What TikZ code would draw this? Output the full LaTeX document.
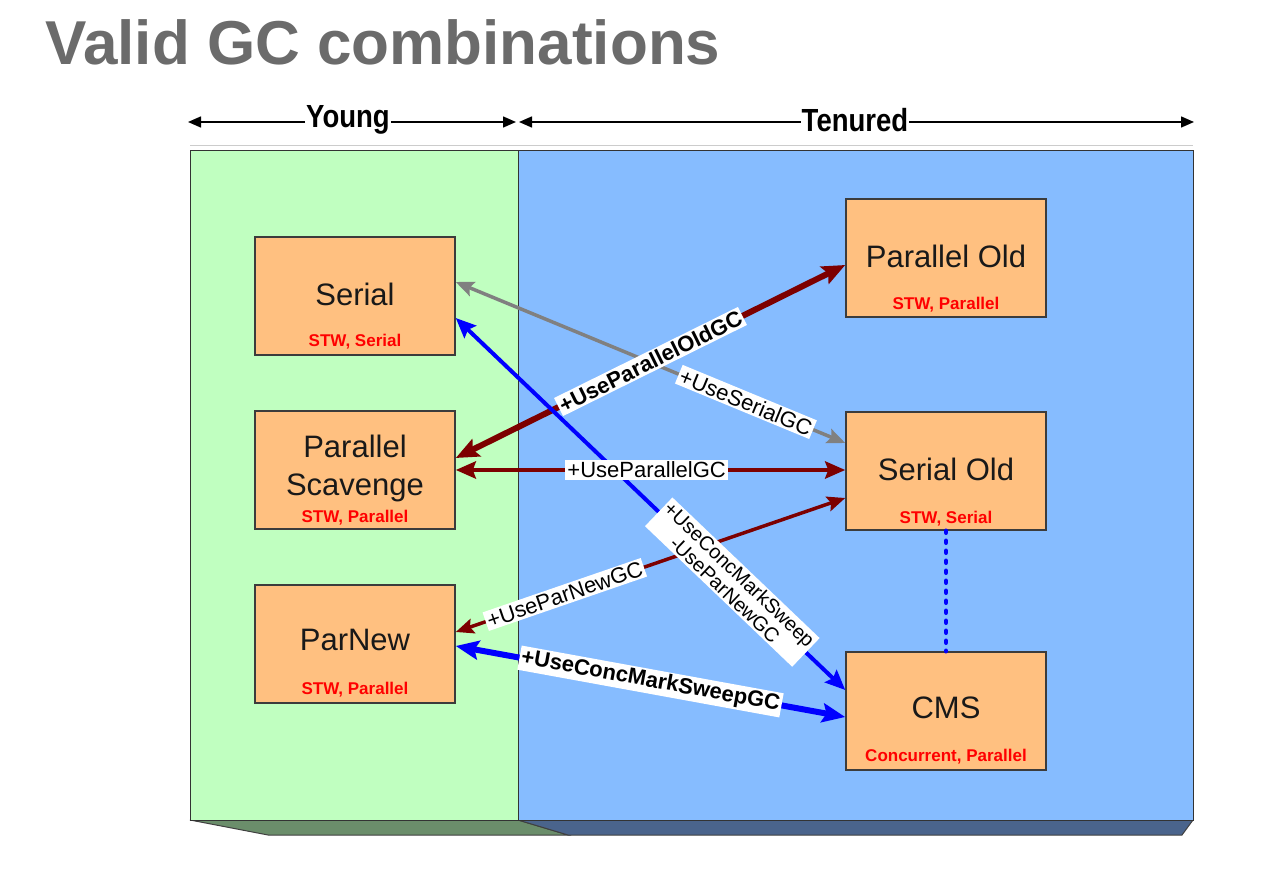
\documentclass[tikz,border=0pt]{standalone}
\usepackage{fontspec}
\setmainfont{Liberation Sans}
\usetikzlibrary{arrows.meta,calc}
\definecolor{youngbg}{RGB}{192,255,192}
\definecolor{tenbg}{RGB}{134,188,255}
\definecolor{boxfill}{RGB}{255,192,128}
\definecolor{boxline}{RGB}{60,60,60}
\definecolor{darkred}{RGB}{125,0,0}
\definecolor{titlegray}{RGB}{107,107,107}
\definecolor{youngdark}{RGB}{107,142,107}
\definecolor{tendark}{RGB}{74,100,140}
\definecolor{gcblue}{RGB}{0,0,255}
\definecolor{gcgray}{RGB}{128,128,128}
\begin{document}
\begin{tikzpicture}[x=1pt,y=-1pt,
  panel/.style={draw=black!80,line width=1.2pt},
  gcbox/.style={draw=boxline,line width=1.5pt,fill=boxfill,minimum width=200pt,minimum height=118pt,inner sep=0pt},
  gcname/.style={font=\fontsize{31}{38}\selectfont,text=black!90,align=center},
  gcprop/.style={font=\bfseries\fontsize{17}{20}\selectfont,text=red},
  hdr/.style={font=\bfseries\fontsize{32}{36}\selectfont,inner sep=1pt},
  hdrline/.style={line width=1.5pt,-{Triangle[length=13pt,width=11pt]}},
  lbl/.style={fill=white,inner sep=2pt,font=\fontsize{22}{24}\selectfont,sloped},
  blbl/.style={lbl,font=\bfseries\fontsize{22}{24}\selectfont},
]
\useasboundingbox (0,0) rectangle (1286,882);

% title
\node[anchor=base west,inner sep=0pt,text=titlegray,font=\bfseries\fontsize{62}{70}\selectfont] (title) at (45,65) {Valid GC combinations};

% header arrows
\node[hdr] (young) at (348,120) {\scalebox{0.86}[1]{Young}};
\coordinate (ya) at (188,122);
\coordinate (yb) at (516,122);
\draw[hdrline] (young.west |- ya) -- (ya);
\draw[hdrline] (young.east |- ya) -- (yb);
\node[hdr] (tenured) at (855,120) {\scalebox{0.86}[1]{Tenured}};
\coordinate (ta) at (519,122);
\coordinate (tb) at (1194,122);
\draw[hdrline] (tenured.west |- ta) -- (ta);
\draw[hdrline] (tenured.east |- ta) -- (tb);

% panels
\draw[black!20,line width=1pt] (190,146) -- (1193,146);
\fill[youngdark,draw=black!75,line width=1pt] (190,820) -- (518,820) -- (568,835) -- (268,835) -- cycle;
\fill[tendark,draw=black!75,line width=1pt] (518,820) -- (1193,820) -- (1182,835) -- (568,835) -- cycle;
\node[panel,fill=youngbg,minimum width=328pt,minimum height=670pt,inner sep=0pt,anchor=north west] (youngpanel) at (190,150) {};
\node[panel,fill=tenbg,minimum width=675pt,minimum height=670pt,inner sep=0pt,anchor=north west] (tenpanel) at (518,150) {};

% boxes
\node[gcbox] (serial) at (355,296) {};
\node[gcname] (serialt) at (355,294) {Serial};
\node[gcprop] (serialp) at (355,342) {STW, Serial};

\node[gcbox] (ps) at (355,470) {};
\node[gcname] (pst) at (355,468) {Parallel\\Scavenge};
\node[gcprop] (psp) at (355,518) {STW, Parallel};

\node[gcbox] (parnew) at (355,644) {};
\node[gcname] (parnewt) at (355,640) {ParNew};
\node[gcprop] (parnewp) at (355,690) {STW, Parallel};

\node[gcbox] (pold) at (946,258) {};
\node[gcname] (poldt) at (946,256) {Parallel Old};
\node[gcprop] (poldp) at (946,305) {STW, Parallel};

\node[gcbox] (sold) at (946,471) {};
\node[gcname] (soldt) at (946,469) {Serial Old};
\node[gcprop] (soldp) at (946,519) {STW, Serial};

\node[gcbox] (cms) at (946,711) {};
\node[gcname] (cmst) at (946,708) {CMS};
\node[gcprop] (cmsp) at (946,757) {Concurrent, Parallel};

% connectors
\coordinate (g1) at ($(serial.east)+(0,-14)$);
\coordinate (g2) at ($(sold.west)+(0,-28)$);
\draw[gcgray,line width=3.5pt,{Stealth[length=18pt,width=15pt,inset=3pt]}-{Stealth[length=18pt,width=15pt,inset=3pt]}] (g1) -- (g2);

\coordinate (r1) at ($(ps.east)+(0,-12)$);
\coordinate (r2) at ($(pold.west)+(0,7)$);
\draw[darkred,line width=6pt,{Stealth[length=23pt,width=19pt,inset=4pt]}-{Stealth[length=23pt,width=19pt,inset=4pt]}] (r1) -- (r2);

\coordinate (p1) at (ps.east);
\coordinate (p2) at (ps.east -| sold.west);
\draw[darkred,line width=4.5pt,{Stealth[length=20pt,width=17pt,inset=3pt]}-{Stealth[length=20pt,width=17pt,inset=3pt]}] (p1) -- (p2);

\coordinate (n1) at ($(parnew.east)+(0,-12)$);
\coordinate (n2) at ($(sold.west)+(0,27)$);
\draw[darkred,line width=3.5pt,{Stealth[length=18pt,width=15pt,inset=3pt]}-{Stealth[length=18pt,width=15pt,inset=3pt]}] (n1) -- (n2);

\coordinate (b1) at ($(serial.east)+(0,22)$);
\coordinate (b2) at ($(cms.west)+(0,-21)$);
\draw[gcblue,line width=4pt,{Stealth[length=20pt,width=17pt,inset=3pt]}-{Stealth[length=20pt,width=17pt,inset=3pt]}] (b1) -- (b2);

\coordinate (c1) at ($(parnew.east)+(0,2)$);
\coordinate (c2) at ($(cms.west)+(0,6)$);
\draw[gcblue,line width=6pt,{Stealth[length=23pt,width=19pt,inset=4pt]}-{Stealth[length=23pt,width=19pt,inset=4pt]}] (c1) -- (c2);

\draw[gcblue,line width=4.5pt,line cap=round,dash pattern=on 2pt off 8pt] (sold.south) -- (cms.north);

% labels
\path (g1) -- (g2) node[lbl,pos=0.745] (lserial) {+UseSerialGC};
\path (r1) -- (r2) node[blbl,pos=0.5] (lpold) {+UseParallelOldGC};
\path (p1) -- (p2) node[lbl,pos=0.49] (lpar) {+UseParallelGC};
\path (n1) -- (n2) node[lbl,pos=0.28] (lparnew) {+UseParNewGC};
\path (b1) -- (b2) node[lbl,pos=0.71,align=center,font=\fontsize{20}{21}\selectfont] (lcms) {+UseConcMarkSweep\\-UseParNewGC};
\path (c1) -- (c2) node[blbl,pos=0.5] (lcmsgc) {+UseConcMarkSweepGC};
\end{tikzpicture}
\end{document}
